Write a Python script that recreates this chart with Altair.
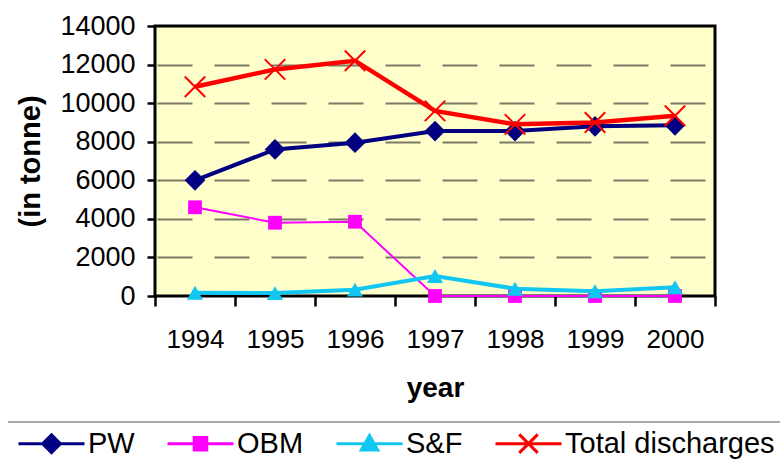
import altair as alt
import pandas as pd

# Annual discharges, tonnes
years = ["1994", "1995", "1996", "1997", "1998", "1999", "2000"]
pw = [6000, 7600, 7950, 8550, 8550, 8800, 8850]
obm = [4600, 3800, 3850, 0, 0, 0, 0]
sf = [170, 150, 330, 1040, 380, 250, 450]
total = [10850, 11750, 12200, 9600, 8900, 9000, 9350]

series = ["PW", "OBM", "S&F", "Total discharges"]
colors = ["#000080", "#FF00FF", "#12C6F2", "#FF0000"]
y_ticks = [0, 2000, 4000, 6000, 8000, 10000, 12000, 14000]

rows = []
for name, vals in zip(series, [pw, obm, sf, total]):
    for yr, v in zip(years, vals):
        rows.append({"year": yr, "series": name, "value": v})
df = pd.DataFrame(rows)

FONT = "Liberation Sans"

x_enc = alt.X(
    "year:O",
    sort=years,
    scale=alt.Scale(type="band", paddingInner=0, paddingOuter=0),
    axis=alt.Axis(
        title="year",
        titleFont=FONT,
        titleFontSize=28,
        titleFontWeight="bold",
        titleColor="black",
        titlePadding=22,
        labelFont=FONT,
        labelFontSize=26,
        labelColor="black",
        labelAngle=0,
        labelPadding=20,
        tickBand="extent",
        tickSize=10,
        tickWidth=2.5,
        tickColor="black",
        domain=False,
        grid=False,
    ),
)
y_enc = alt.Y(
    "value:Q",
    scale=alt.Scale(domain=[0, 14000], nice=False),
    axis=alt.Axis(
        values=y_ticks,
        format="d",
        title="(in tonne)",
        titleFont=FONT,
        titleFontSize=29,
        titleFontWeight="bold",
        titleColor="black",
        titlePadding=14,
        labelFont=FONT,
        labelFontSize=27,
        labelColor="black",
        labelPadding=12,
        tickSize=8,
        tickWidth=2.5,
        tickColor="black",
        domain=False,
        grid=True,
        gridColor="#7A7A66",
        gridWidth=2,
        gridDash=[35, 22],
        gridDashOffset=-2,
        gridOpacity={"condition": {"test": "datum.value == 0 || datum.value == 14000", "value": 0}, "value": 1},
    ),
)
color_scale = alt.Scale(domain=series, range=colors)

# Marker styling per series: (shape, size, filled, line width)
markers = {
    "PW": ("diamond", 430, True, 4),
    "OBM": ("square", 190, True, 2),
    "S&F": ("triangle-up", 260, True, 4),
    "Total discharges": ("M-1,-1L1,1M-1,1L1,-1", 420, False, 4.5),
}

layers = []
for name, col in zip(series, colors):
    shape, size, filled, lw = markers[name]
    base = alt.Chart(df).transform_filter(alt.datum.series == name)
    line = base.mark_line(strokeWidth=lw, color=col).encode(x=x_enc, y=y_enc)
    pts = base.mark_point(
        shape=shape, size=size, filled=filled, opacity=1, color=col,
        strokeWidth=2 if not filled else 0.5,
    ).encode(x=x_enc, y=y_enc)
    layers += [line, pts]

# Legend symbols: a line segment with the series marker in the middle
legend_shapes = [
    "M-1,0H1M0,-0.27L0.27,0L0,0.27L-0.27,0Z",
    "M-1,0H1M-0.19,-0.19H0.19V0.19H-0.19Z",
    "M-1,0H1M0,-0.25L0.25,0.19H-0.25Z",
    "M-1,0H1M-0.28,-0.28L0.28,0.28M-0.28,0.28L0.28,-0.28",
]
legend = alt.Legend(
    title=None,
    orient="none",
    direction="horizontal",
    columns=4,
    legendX=-138,
    legendY=383,
    padding=0,
    symbolSize=4356,
    symbolStrokeWidth=3,
    symbolOpacity=1,
    labelFont=FONT,
    labelFontSize=29,
    labelColor="black",
    labelOffset=2,
    columnPadding=26,
    labelLimit=400,
)
key = alt.Chart(df).mark_point(filled=True, opacity=0).encode(
    x=x_enc, y=y_enc,
    color=alt.Color("series:N", scale=color_scale, legend=legend),
    stroke=alt.Stroke("series:N", scale=color_scale, legend=legend),
    shape=alt.Shape("series:N", scale=alt.Scale(domain=series, range=legend_shapes), legend=legend),
)

separator = alt.Chart(alt.Data(values=[{}])).mark_rule(
    color="#8C8C8C", strokeWidth=1.5
).encode(x=alt.value(-147), x2=alt.value(625), y=alt.value(396))

chart = alt.layer(*layers, key, separator).properties(
    width=560,
    height=270,
    padding={"left": 155, "top": 26, "right": 65, "bottom": 174},
    autosize=alt.AutoSizeParams(type="none"),
    background="white",
).configure_view(
    fill="#FFFFCC", stroke="black", strokeWidth=3
)

chart.save("out.html", embed_options={"renderer": "svg", "actions": False})
